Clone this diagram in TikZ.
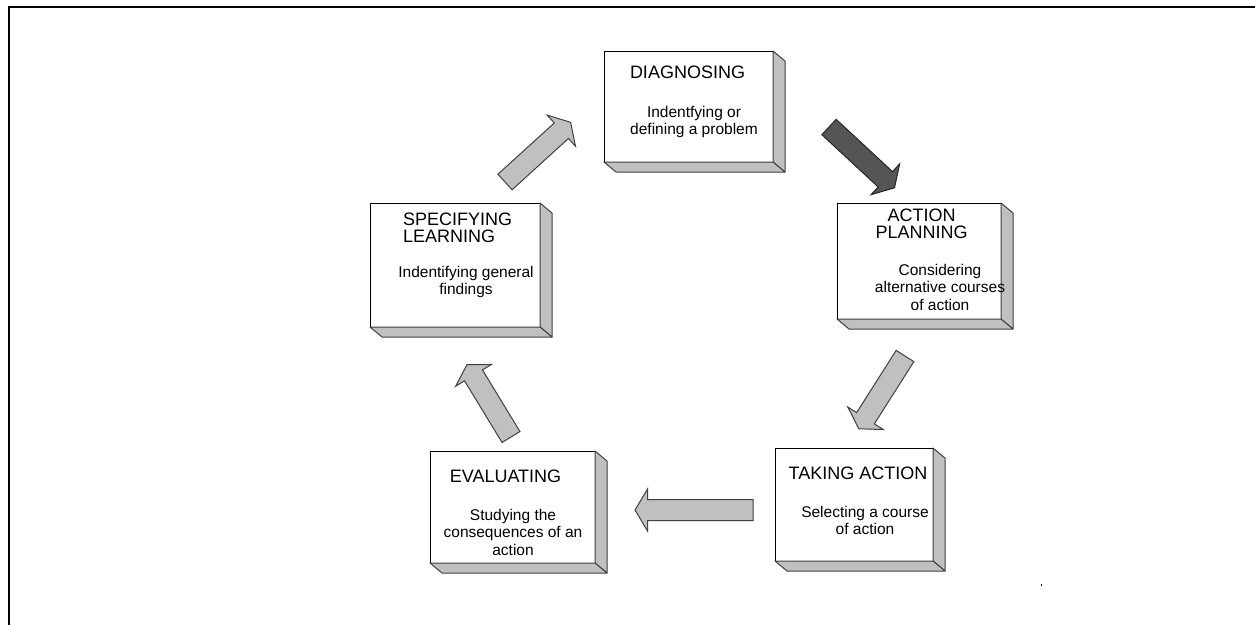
\documentclass[tikz,border=0pt]{standalone}
\usepackage{fontspec}
\setmainfont{Liberation Sans}
\usetikzlibrary{calc}
\definecolor{facegray}{HTML}{C0C0C0}
\definecolor{edgegray}{HTML}{404040}
\definecolor{darkfill}{HTML}{555555}
\tikzset{
  frontbox/.style={draw=black, line width=1pt, fill=white, inner sep=0pt, outer sep=0pt},
  sideface/.style={draw=edgegray, line width=1pt, fill=facegray, line join=round},
  lightarrow/.style={draw=edgegray, line width=1pt, fill=facegray, line join=miter},
  darkarrow/.style={draw=black!85, line width=1pt, fill=darkfill, line join=miter},
  titletext/.style={font=\fontsize{18}{16.5}\selectfont, align=center, inner sep=0pt, anchor=north},
  subtext/.style={font=\fontsize{15.5}{17.5}\selectfont, align=center, inner sep=0pt, anchor=north},
}
\newcommand\extrude[1]{%
  \filldraw[sideface] (#1.north east) -- ++(12,10) -- ($(#1.south east)+(12,10)$) -- (#1.south east) -- cycle;
  \filldraw[sideface] (#1.south west) -- ++(12,10) -- ($(#1.south east)+(12,10)$) -- (#1.south east) -- cycle;
}
\newcommand\blockarrow[3]{% style, tail, tip
  \coordinate (#2-base) at ($(#3)!12.5pt!(#2)$);
  \filldraw[#1] ($(#2)!10.5pt!90:(#3)$) -- ($(#2-base)!10.5pt!-90:(#2)$) -- ($(#2-base)!21pt!-90:(#2)$)
    -- (#3) -- ($(#2-base)!21pt!90:(#2)$) -- ($(#2-base)!10.5pt!90:(#2)$) -- ($(#2)!10.5pt!-90:(#3)$) -- cycle;
}
\begin{document}
\begin{tikzpicture}[x=1pt, y=-1pt]
\useasboundingbox (0,0) rectangle (1255,625);
\fill[white] (0,0) rectangle (1255,625);
% frame
\draw[line width=2pt] (9,625) -- (9,7) -- (1256,7);
% boxes
\node[frontbox, minimum width=169pt, minimum height=111pt] (diag) at (688.5,106.5) {};
\node[frontbox, minimum width=164pt, minimum height=116pt] (plan) at (919,261) {};
\node[frontbox, minimum width=170pt, minimum height=124pt] (learn) at (455,265) {};
\node[frontbox, minimum width=165pt, minimum height=112pt] (eval) at (512.5,507) {};
\node[frontbox, minimum width=158pt, minimum height=113pt] (take) at (854,504.5) {};
\extrude{diag}
\extrude{plan}
\extrude{learn}
\extrude{eval}
\extrude{take}
% texts
\node[titletext] (diagT) at (687.5,66) {DIAGNOSING};
\node[subtext] (diagS) at (694,106) {Indentfying or\\defining a problem};
\node[titletext] (planT) at (921.5,209) {ACTION\\PLANNING};
\node[subtext] (planS) at (940,264) {Considering\\alternative courses\\of action};
\node[titletext, align=left, anchor=north west] (learnT) at (403,213) {SPECIFYING\\LEARNING};
\node[subtext] (learnS) at (466,266) {Indentifying general\\findings};
\node[titletext] (evalT) at (505.5,470) {EVALUATING};
\node[subtext] (evalS) at (513,509) {Studying the\\consequences of an\\action};
\node[titletext] (takeT) at (858,467) {TAKING ACTION};
\node[subtext] (takeS) at (865,506) {Selecting a course\\of action};
% arrow ends
\coordinate (a1s) at (505,182);   \coordinate (a1e) at (570.6,122.3);
\coordinate (a2s) at (829,127);   \coordinate (a2e) at (894.5,187.8);
\coordinate (a3s) at (905,356);   \coordinate (a3e) at (858.8,428.8);
\coordinate (a4s) at (753,510);   \coordinate (a4e) at (635,510);
\coordinate (a5s) at (511,437);   \coordinate (a5e) at (467,364.7);
\blockarrow{lightarrow}{a1s}{a1e}
\blockarrow{darkarrow}{a2s}{a2e}
\blockarrow{lightarrow}{a3s}{a3e}
\blockarrow{lightarrow}{a4s}{a4e}
\blockarrow{lightarrow}{a5s}{a5e}
% stray dot
\fill (1040.5,583.5) rectangle (1041.5,585.5);
\end{tikzpicture}
\end{document}
